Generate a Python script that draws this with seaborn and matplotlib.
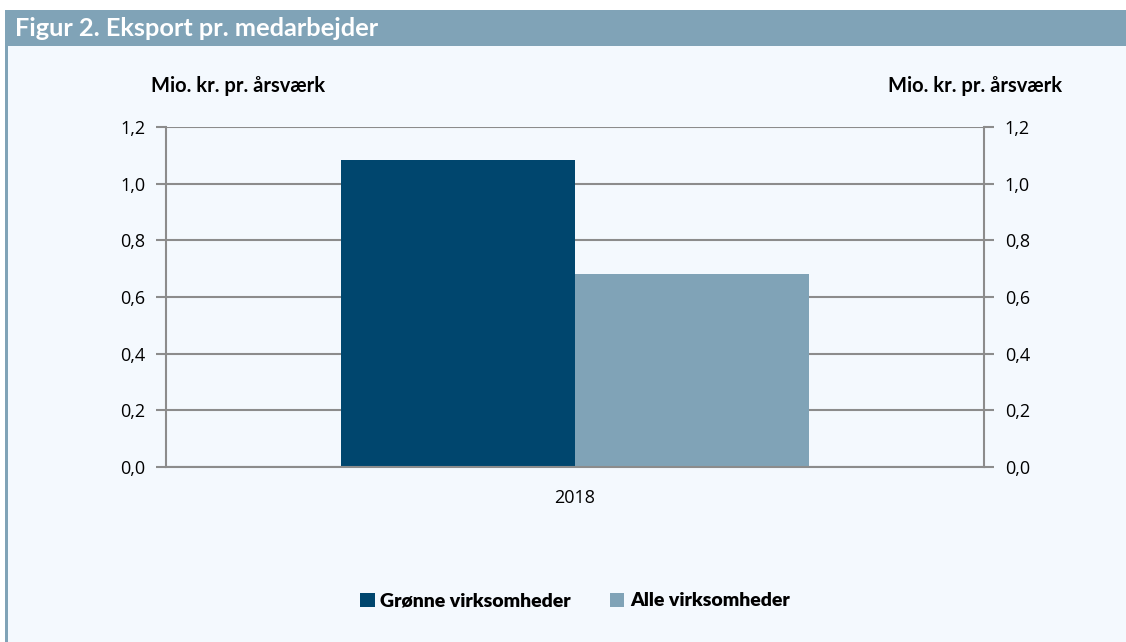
import pandas as pd
import matplotlib.pyplot as plt
import seaborn as sns
from matplotlib.patches import Rectangle

# data
years = ["2018"]
groups = ["Grønne virksomheder", "Alle virksomheder"]
values = [1.085, 0.68]
colors = ["#00466e", "#80a3b7"]

df = pd.DataFrame({"year": years * len(groups), "group": groups, "value": values})

sns.set_theme(style="white")
plt.rcParams["font.family"] = ["Lato", "DejaVu Sans"]
plt.rcParams["text.color"] = "black"

fig = plt.figure(figsize=(11.26, 6.42), dpi=100, facecolor="white")

# background panel, header band and left strip
fig.patches.append(Rectangle((5 / 1126, 0), 1 - 5 / 1126, 1 - 10 / 642, transform=fig.transFigure,
                             facecolor="#f4f9fe", edgecolor="none", zorder=-10))
fig.patches.append(Rectangle((5 / 1126, 1 - 46 / 642), 1, 36 / 642, transform=fig.transFigure,
                             facecolor="#80a3b7", edgecolor="none", zorder=-9))
fig.patches.append(Rectangle((5 / 1126, 0), 3 / 1126, 1 - 10 / 642, transform=fig.transFigure,
                             facecolor="#80a3b7", edgecolor="none", zorder=-9))
fig.text(15 / 1126, 1 - 29 / 642, "Figur 2. Eksport pr. medarbejder", color="white",
         fontsize=18.3, fontweight="bold", va="center", ha="left")

ax = fig.add_axes([166 / 1126, 1 - 467 / 642, 818 / 1126, 340 / 642])
ax.set_facecolor("none")
ax.set_zorder(2)

sns.barplot(data=df, x="year", y="value", hue="group", palette=colors, width=0.571,
            saturation=1, ax=ax, legend=True)
for p in ax.patches:
    p.set_edgecolor("none")

ax.set_ylim(0, 1.2)
ax.set_xlim(-0.5, 0.5)
ax.set_yticks([0, 0.2, 0.4, 0.6, 0.8, 1.0, 1.2])
ax.set_yticklabels([f"{t:.1f}".replace(".", ",") for t in ax.get_yticks()])
ax.yaxis.grid(True, color="#8c8c8c", linewidth=1.5)
ax.set_axisbelow(True)
ax.set_xlabel("")
ax.set_ylabel("")

for s in ["top"]:
    ax.spines[s].set_visible(False)
for s in ["left", "right", "bottom"]:
    ax.spines[s].set_color("#8c8c8c")
    ax.spines[s].set_linewidth(1.5)

ax.tick_params(axis="y", left=True, right=True, labelleft=True, labelright=True,
               length=7, width=1.5, color="#8c8c8c", labelsize=13, pad=8,
               direction="out", labelcolor="black")
ax.tick_params(axis="x", bottom=False, labelsize=13, pad=10, labelcolor="black")
for lab in ax.get_yticklabels() + ax.get_xticklabels():
    lab.set_family(["Open Sans", "DejaVu Sans"])

fig.text(238 / 1126, 1 - 86 / 642, "Mio. kr. pr. årsværk", fontsize=14.5, fontweight="bold",
         ha="center", va="center")
fig.text(975 / 1126, 1 - 86 / 642, "Mio. kr. pr. årsværk", fontsize=14.5, fontweight="bold",
         ha="center", va="center")

leg = ax.legend(loc="center", bbox_to_anchor=(575 / 1126, 1 - 601 / 642),
                bbox_transform=fig.transFigure, ncol=2, frameon=False,
                handlelength=0.75, handleheight=0.75, handletextpad=0.3, columnspacing=2.0,
                prop={"family": ["Lato", "DejaVu Sans"], "weight": "heavy", "size": 14})

fig.savefig("out.png", dpi=100, facecolor="white")
